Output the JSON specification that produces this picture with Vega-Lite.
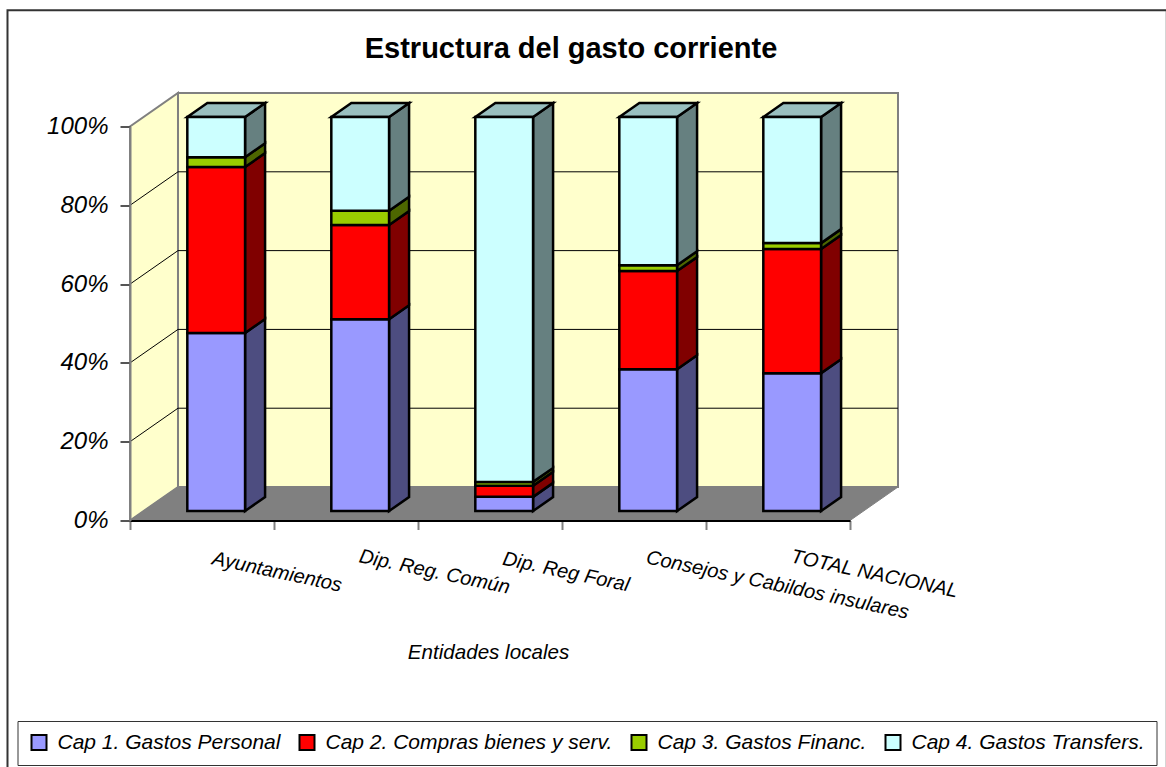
{"$schema":"https://vega.github.io/schema/vega-lite/v6.json","width":720,"height":394,"autosize":"none","padding":{"left":130,"top":126.5,"right":316,"bottom":246.5},"background":"white","config":{"view":{"stroke":null},"font":"Liberation Sans"},"title":{"text":"Estructura del gasto corriente","font":"Liberation Sans","fontSize":29,"fontWeight":"bold","color":"#000000","anchor":"middle","frame":"group","dx":81,"dy":55,"offset":0},"datasets":{"gasto":[{"entidad":"Ayuntamientos","idx":0,"capitulo":"Cap 1. Gastos Personal","valor":45.2},{"entidad":"Ayuntamientos","idx":0,"capitulo":"Cap 2. Compras bienes y serv.","valor":42.1},{"entidad":"Ayuntamientos","idx":0,"capitulo":"Cap 3. Gastos Financ.","valor":2.5},{"entidad":"Ayuntamientos","idx":0,"capitulo":"Cap 4. Gastos Transfers.","valor":10.2},{"entidad":"Dip. Reg. Común","idx":1,"capitulo":"Cap 1. Gastos Personal","valor":48.7},{"entidad":"Dip. Reg. Común","idx":1,"capitulo":"Cap 2. Compras bienes y serv.","valor":23.9},{"entidad":"Dip. Reg. Común","idx":1,"capitulo":"Cap 3. Gastos Financ.","valor":3.6},{"entidad":"Dip. Reg. Común","idx":1,"capitulo":"Cap 4. Gastos Transfers.","valor":23.8},{"entidad":"Dip. Reg Foral","idx":2,"capitulo":"Cap 1. Gastos Personal","valor":3.6},{"entidad":"Dip. Reg Foral","idx":2,"capitulo":"Cap 2. Compras bienes y serv.","valor":2.8},{"entidad":"Dip. Reg Foral","idx":2,"capitulo":"Cap 3. Gastos Financ.","valor":1.0},{"entidad":"Dip. Reg Foral","idx":2,"capitulo":"Cap 4. Gastos Transfers.","valor":92.6},{"entidad":"Consejos y Cabildos insulares","idx":3,"capitulo":"Cap 1. Gastos Personal","valor":36.0},{"entidad":"Consejos y Cabildos insulares","idx":3,"capitulo":"Cap 2. Compras bienes y serv.","valor":24.9},{"entidad":"Consejos y Cabildos insulares","idx":3,"capitulo":"Cap 3. Gastos Financ.","valor":1.5},{"entidad":"Consejos y Cabildos insulares","idx":3,"capitulo":"Cap 4. Gastos Transfers.","valor":37.6},{"entidad":"TOTAL NACIONAL","idx":4,"capitulo":"Cap 1. Gastos Personal","valor":35.0},{"entidad":"TOTAL NACIONAL","idx":4,"capitulo":"Cap 2. Compras bienes y serv.","valor":31.5},{"entidad":"TOTAL NACIONAL","idx":4,"capitulo":"Cap 3. Gastos Financ.","valor":1.5},{"entidad":"TOTAL NACIONAL","idx":4,"capitulo":"Cap 4. Gastos Transfers.","valor":32.0}],"profundidad":[{"k":0},{"k":1}],"rejilla":[{"v":20},{"v":40},{"v":60},{"v":80}],"marco":[{"x0":-0.8507,"x1":7.2,"y0":-63,"y1":129.5}],"etiquetas":[{"entidad":"Ayuntamientos","ex":1.0208,"ey":-13.1},{"entidad":"Dip. Reg. Común","ex":2.1146,"ey":-13.1},{"entidad":"Dip. Reg Foral","ex":3.0278,"ey":-13.1},{"entidad":"Consejos y Cabildos insulares","ex":4.497,"ey":-16.4},{"entidad":"TOTAL NACIONAL","ex":5.1701,"ey":-13.6}]},"layer":[{"data":{"name":"marco"},"mark":{"type":"rect","fill":"white","stroke":"#333333","strokeWidth":2},"encoding":{"x":{"field":"x0","type":"quantitative","scale":{"domain":[0,5]}},"x2":{"field":"x1"},"y":{"field":"y0","type":"quantitative","scale":{"domain":[0,100]}},"y2":{"field":"y1"}}},{"data":{"name":"profundidad"},"transform":[{"calculate":"datum.k*0.3333","as":"px"},{"calculate":"datum.k*8.5","as":"low"},{"calculate":"100+datum.k*8.5","as":"high"}],"mark":{"type":"area","orient":"vertical","fill":"#FFFFCC","stroke":"#808080","strokeWidth":2},"encoding":{"x":{"field":"px","type":"quantitative","scale":{"domain":[0,5]}},"y":{"field":"low","type":"quantitative","scale":{"domain":[0,100]},"stack":null},"y2":{"field":"high"}}},{"data":{"values":[{"a":0.3333,"b":5.3333,"c":8.5,"d":108.5}]},"mark":{"type":"rect","fill":"#FFFFCC","stroke":"#808080","strokeWidth":2},"encoding":{"x":{"field":"a","type":"quantitative","scale":{"domain":[0,5]}},"x2":{"field":"b"},"y":{"field":"c","type":"quantitative","scale":{"domain":[0,100]}},"y2":{"field":"d"}}},{"data":{"name":"profundidad"},"transform":[{"calculate":"datum.k*8.5","as":"py"},{"calculate":"datum.k*0.3333","as":"xa"},{"calculate":"5+datum.k*0.3333","as":"xb"}],"mark":{"type":"area","orient":"horizontal","fill":"#808080","stroke":"#808080","strokeWidth":1},"encoding":{"y":{"field":"py","type":"quantitative","scale":{"domain":[0,100]}},"x":{"field":"xa","type":"quantitative","scale":{"domain":[0,5]},"stack":null},"x2":{"field":"xb"}}},{"data":{"name":"rejilla"},"transform":[{"calculate":"datum.v+8.5","as":"vb"},{"calculate":"0.3333","as":"xa"},{"calculate":"0","as":"xz"}],"mark":{"type":"rule","stroke":"#000000","strokeWidth":1},"encoding":{"x":{"field":"xz","type":"quantitative","scale":{"domain":[0,5]}},"x2":{"field":"xa"},"y":{"field":"v","type":"quantitative","scale":{"domain":[0,100]}},"y2":{"field":"vb"}}},{"data":{"name":"rejilla"},"transform":[{"calculate":"datum.v+8.5","as":"vb"},{"calculate":"0.3333","as":"xa"},{"calculate":"5.3333","as":"xz"}],"mark":{"type":"rule","stroke":"#000000","strokeWidth":1},"encoding":{"x":{"field":"xa","type":"quantitative","scale":{"domain":[0,5]}},"x2":{"field":"xz"},"y":{"field":"vb","type":"quantitative","scale":{"domain":[0,100]}}}},{"data":{"name":"gasto"},"transform":[{"stack":"valor","groupby":["entidad"],"sort":[{"field":"capitulo"}],"as":["s0","s1"]},{"calculate":"[0,1]","as":"k"},{"flatten":["k"]},{"calculate":"datum.idx+0.799+datum.k*0.139","as":"px"},{"calculate":"datum.s0+2.4+datum.k*3.55","as":"low"},{"calculate":"datum.s1+2.4+datum.k*3.55","as":"high"}],"mark":{"type":"area","orient":"vertical","stroke":"#000000","strokeWidth":2.5,"strokeJoin":"miter"},"encoding":{"x":{"field":"px","type":"quantitative","scale":{"domain":[0,5]}},"y":{"field":"low","type":"quantitative","scale":{"domain":[0,100]},"stack":null},"y2":{"field":"high"},"detail":{"field":"entidad"},"color":{"field":"capitulo","type":"nominal","legend":null,"scale":{"domain":["Cap 1. Gastos Personal","Cap 2. Compras bienes y serv.","Cap 3. Gastos Financ.","Cap 4. Gastos Transfers."],"range":["#4D4D80","#800000","#4D6600","#668080"]}}}},{"data":{"name":"gasto"},"transform":[{"filter":"datum.capitulo==='Cap 4. Gastos Transfers.'"},{"calculate":"[0,1]","as":"k"},{"flatten":["k"]},{"calculate":"102.4+datum.k*3.55","as":"py"},{"calculate":"datum.idx+0.398+datum.k*0.139","as":"xa"},{"calculate":"datum.idx+0.799+datum.k*0.139","as":"xb"}],"mark":{"type":"area","orient":"horizontal","fill":"#99BFBF","stroke":"#000000","strokeWidth":2.5,"strokeJoin":"miter"},"encoding":{"y":{"field":"py","type":"quantitative","scale":{"domain":[0,100]}},"x":{"field":"xa","type":"quantitative","scale":{"domain":[0,5]},"stack":null},"x2":{"field":"xb"},"detail":{"field":"entidad"}}},{"data":{"name":"gasto"},"transform":[{"stack":"valor","groupby":["entidad"],"sort":[{"field":"capitulo"}],"as":["s0","s1"]},{"calculate":"datum.idx+0.398","as":"xa"},{"calculate":"datum.idx+0.799","as":"xb"},{"calculate":"datum.s0+2.4","as":"low"},{"calculate":"datum.s1+2.4","as":"high"}],"mark":{"type":"rect","stroke":"#000000","strokeWidth":2.5},"encoding":{"x":{"field":"xa","type":"quantitative","scale":{"domain":[0,5]},"axis":{"values":[0,1,2,3,4,5],"labels":false,"grid":false,"domainColor":"#000000","domainWidth":2,"tickColor":"#808080","tickWidth":2,"tickSize":9,"zindex":1,"title":"Entidades locales","titleFont":"Liberation Sans","titleFontStyle":"italic","titleFontWeight":"normal","titleFontSize":20.6,"titleColor":"#000000","titleX":358,"titleY":132,"titleAlign":"center","titleBaseline":"middle"}},"x2":{"field":"xb"},"y":{"field":"low","type":"quantitative","scale":{"domain":[0,100]},"axis":{"values":[0,20,40,60,80,100],"format":".0f","labelExpr":"datum.label+'%'","grid":false,"domainColor":"#808080","domainWidth":2,"tickColor":"#555555","tickWidth":2,"tickSize":10,"labelFont":"Liberation Sans","labelFontStyle":"italic","labelFontSize":24,"labelColor":"#000000","labelPadding":12,"zindex":1,"title":null}},"y2":{"field":"high"},"color":{"field":"capitulo","type":"nominal","scale":{"domain":["Cap 1. Gastos Personal","Cap 2. Compras bienes y serv.","Cap 3. Gastos Financ.","Cap 4. Gastos Transfers."],"range":["#9999FF","#FF0000","#99CC00","#CCFFFF"]},"legend":{"title":null,"orient":"none","legendX":-112.5,"legendY":594.5,"direction":"horizontal","columns":4,"gridAlign":"none","columnPadding":15,"symbolType":"square","symbolSize":225,"symbolStrokeColor":"#000000","symbolStrokeWidth":2,"labelFont":"Liberation Sans","labelFontStyle":"italic","labelFontSize":21,"labelColor":"#000000","labelLimit":400,"labelOffset":8,"strokeColor":"#333333","fillColor":"white","padding":11}}}},{"data":{"name":"etiquetas"},"mark":{"type":"text","font":"Liberation Sans","fontStyle":"italic","fontSize":20,"angle":12,"align":"center","baseline":"middle","color":"#000000"},"encoding":{"x":{"field":"ex","type":"quantitative","scale":{"domain":[0,5]}},"y":{"field":"ey","type":"quantitative","scale":{"domain":[0,100]}},"text":{"field":"entidad"}}}],"resolve":{"scale":{"color":"independent"}}}
